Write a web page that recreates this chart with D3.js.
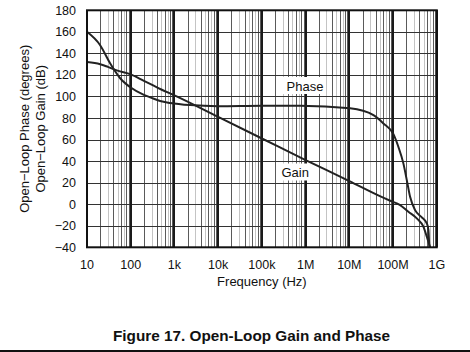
<!DOCTYPE html>
<html>
<head>
<meta charset="utf-8">
<script src="https://cdn.jsdelivr.net/npm/d3@7"></script>
<style>
  body { margin: 0; background: #fff; }
  svg { display: block; font-family: "Liberation Sans", Arial, sans-serif; }
</style>
</head>
<body>
<svg id="chart" width="470" height="352"></svg>
<script>
// frequency axis
const freqTicks = [1e1, 1e2, 1e3, 1e4, 1e5, 1e6, 1e7, 1e8, 1e9];
const freqLabels = ["10", "100", "1k", "10k", "100k", "1M", "10M", "100M", "1G"];
const yTicks = [180, 160, 140, 120, 100, 80, 60, 40, 20, 0, -20, -40];

// gain curve (dB)
const gainFreq = [10, 20, 30, 50, 100, 200, 300, 500, 1e3, 1e4, 1e5, 1e6, 1e7, 5e7, 8.6e7, 1.45e8, 2.24e8, 3.49e8, 4.94e8, 5.91e8, 7.03e8];
const gainDb = [132, 130, 127.5, 124, 120.5, 114.5, 111, 106.5, 101, 81, 61, 41, 21.5, 7.5, 3.2, -0.8, -7, -13.1, -20.9, -30.2, -40];

// phase curve (degrees)
const phaseFreq = [10, 20, 34, 58, 100, 200, 280, 470, 800, 2300, 1e4, 1e5, 7.5e5, 1.04e7, 3.56e7, 6e7, 1.02e8, 1.32e8, 1.72e8, 2.06e8, 2.45e8, 3.19e8, 4.54e8, 5.91e8, 6.43e8, 6.77e8, 6.9e8];
const phaseDeg = [160, 147.6, 130.6, 116.7, 108.3, 101.5, 99.2, 95.8, 94, 92, 91, 91.5, 91.5, 89, 82.6, 75, 65, 53.3, 37.9, 22.4, 6.9, -5.5, -12.2, -17.8, -24, -39.5, -41];

const svg = d3.select("#chart");
const margin = { top: 10.3, left: 87, right: 33.2, bottom: 104.7 };
const width = 470, height = 352;

const x = d3.scaleLog()
    .domain([1e1, 1e9])
    .range([margin.left, width - margin.right]);

const y = d3.scaleLinear()
    .domain([-40, 180])
    .range([height - margin.bottom, margin.top]);

// minor vertical grid (2..9 in each decade)
const minorTicks = [];
freqTicks.slice(0, -1).forEach(d => {
    for (let k = 2; k <= 9; k++) minorTicks.push({ f: d * k, k: k });
});

const grid = svg.append("g").attr("shape-rendering", "crispEdges");

grid.selectAll(".minor")
    .data(minorTicks)
    .join("line")
    .attr("x1", d => Math.round(x(d.f)) + 0.5).attr("x2", d => Math.round(x(d.f)) + 0.5)
    .attr("y1", y(180)).attr("y2", y(-40))
    .attr("stroke", d => (d.k === 3 || d.k === 5 || d.k === 7) ? "#c4c4c4" : "#5a5a5a")
    .attr("stroke-width", 1);

grid.selectAll(".hgrid")
    .data(yTicks)
    .join("line")
    .attr("x1", x(1e1)).attr("x2", x(1e9))
    .attr("y1", d => Math.round(y(d)) + 0.5).attr("y2", d => Math.round(y(d)) + 0.5)
    .attr("stroke", "#333")
    .attr("stroke-width", 1);

grid.selectAll(".major")
    .data(freqTicks)
    .join("line")
    .attr("x1", d => Math.round(x(d))).attr("x2", d => Math.round(x(d)))
    .attr("y1", y(180)).attr("y2", y(-40))
    .attr("stroke", "#1a1a1a")
    .attr("stroke-width", 2);

// label backgrounds knock out the grid
svg.append("rect")
    .attr("x", 283).attr("y", 77).attr("width", 43).attr("height", 17)
    .attr("fill", "#fff");
svg.append("rect")
    .attr("x", 279).attr("y", 163.5).attr("width", 30).attr("height", 17)
    .attr("fill", "#fff");

svg.append("defs").append("clipPath")
    .attr("id", "plotClip")
    .append("rect")
    .attr("x", x(1e1)).attr("y", y(180))
    .attr("width", x(1e9) - x(1e1))
    .attr("height", y(-40) - y(180));

const line = d3.line()
    .x(d => x(d[0]))
    .y(d => y(d[1]))
    .curve(d3.curveMonotoneX);

const curves = svg.append("g").attr("clip-path", "url(#plotClip)");

curves.append("path")
    .datum(d3.zip(gainFreq, gainDb))
    .attr("d", line)
    .attr("fill", "none")
    .attr("stroke", "#222")
    .attr("stroke-width", 2);

curves.append("path")
    .datum(d3.zip(phaseFreq, phaseDeg))
    .attr("d", line)
    .attr("fill", "none")
    .attr("stroke", "#222")
    .attr("stroke-width", 2);

// frame
svg.append("rect")
    .attr("x", x(1e1)).attr("y", y(180))
    .attr("width", x(1e9) - x(1e1))
    .attr("height", y(-40) - y(180))
    .attr("fill", "none")
    .attr("stroke", "#111")
    .attr("stroke-width", 2);

// axes labels
svg.append("g")
    .selectAll("text")
    .data(yTicks)
    .join("text")
    .attr("x", 76)
    .attr("y", d => y(d))
    .attr("dy", "0.36em")
    .attr("text-anchor", "end")
    .attr("font-size", "12.5px")
    .attr("fill", "#111")
    .text(d => d < 0 ? "\u2212" + Math.abs(d) : d);

svg.append("g")
    .selectAll("text")
    .data(freqTicks)
    .join("text")
    .attr("x", d => x(d))
    .attr("y", 269)
    .attr("text-anchor", "middle")
    .attr("font-size", "12.5px")
    .attr("fill", "#111")
    .text((d, i) => freqLabels[i]);

svg.append("text")
    .attr("x", (x(1e1) + x(1e9)) / 2)
    .attr("y", 286)
    .attr("text-anchor", "middle")
    .attr("font-size", "13px")
    .attr("fill", "#111")
    .text("Frequency (Hz)");

const yMid = (y(180) + y(-40)) / 2;
svg.append("text")
    .attr("transform", `translate(29.3,${yMid}) rotate(-90)`)
    .attr("text-anchor", "middle")
    .attr("font-size", "13px")
    .attr("fill", "#111")
    .text("Open\u2212Loop Phase (degrees)");

svg.append("text")
    .attr("transform", `translate(45,${yMid}) rotate(-90)`)
    .attr("text-anchor", "middle")
    .attr("font-size", "13px")
    .attr("fill", "#111")
    .text("Open\u2212Loop Gain (dB)");

// curve labels
svg.append("text")
    .attr("x", 286.5).attr("y", 90.5)
    .attr("font-size", "13px")
    .attr("fill", "#111")
    .text("Phase");

svg.append("text")
    .attr("x", 281.5).attr("y", 176.5)
    .attr("font-size", "13px")
    .attr("fill", "#111")
    .text("Gain");

// caption
svg.append("text")
    .attr("x", 113).attr("y", 341)
    .attr("font-size", "15.3px")
    .attr("font-weight", "bold")
    .attr("fill", "#111")
    .text("Figure 17. Open-Loop Gain and Phase");

svg.append("line")
    .attr("x1", 0).attr("x2", width)
    .attr("y1", 351).attr("y2", 351)
    .attr("stroke", "#111")
    .attr("stroke-width", 2);
</script>
</body>
</html>
